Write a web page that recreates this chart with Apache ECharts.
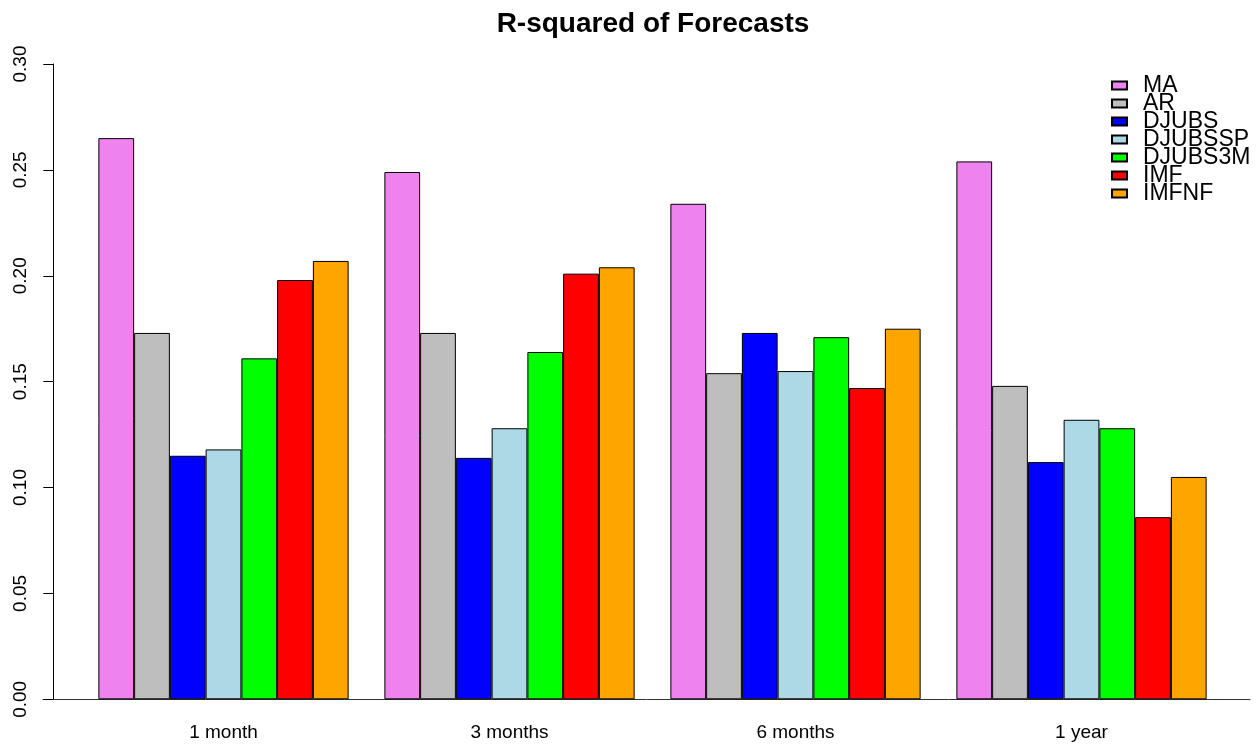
<!DOCTYPE html>
<html>
<head>
<meta charset="utf-8">
<script src="https://cdn.jsdelivr.net/npm/echarts@6/dist/echarts.min.js"></script>
<style>
  html, body { margin: 0; padding: 0; background: #fff; }
  #chart { width: 1258px; height: 747px; }
</style>
</head>
<body>
<div id="chart"></div>
<script>
// ---------- R-squared of Forecasts ----------
var horizons = ['1 month', '3 months', '6 months', '1 year'];
var seriesNames = ['MA', 'AR', 'DJUBS', 'DJUBSSP', 'DJUBS3M', 'IMF', 'IMFNF'];
var seriesColors = ['#EE82EE', '#BEBEBE', '#0000FF', '#ADD8E6', '#00FF00', '#FF0000', '#FFA500'];

var maVals      = [0.265, 0.249, 0.234, 0.254];
var arVals      = [0.173, 0.173, 0.154, 0.148];
var djubsVals   = [0.115, 0.114, 0.173, 0.112];
var djubsspVals = [0.118, 0.128, 0.155, 0.132];
var djubs3mVals = [0.161, 0.164, 0.171, 0.128];
var imfVals     = [0.198, 0.201, 0.147, 0.086];
var imfnfVals   = [0.207, 0.204, 0.175, 0.105];

var yTicks = [0, 0.05, 0.10, 0.15, 0.20, 0.25, 0.30];

var allVals = [maVals, arVals, djubsVals, djubsspVals, djubs3mVals, imfVals, imfnfVals];
var fontName = 'Liberation Sans, Arial, sans-serif';

var chartDom = document.getElementById('chart');
var myChart = echarts.init(chartDom);

var barSeries = seriesNames.map(function (name, i) {
    return {
        name: name,
        type: 'bar',
        xAxisIndex: 0,
        yAxisIndex: 0,
        data: allVals[i],
        barGap: 0,
        barCategoryGap: '12.5%',
        itemStyle: {
            color: seriesColors[i],
            borderColor: '#000',
            borderWidth: 1
        },
        emphasis: { disabled: true }
    };
});

var option = {
    backgroundColor: '#fff',
    animation: false,
    title: {
        text: 'R-squared of Forecasts',
        left: 648,
        textAlign: 'center',
        top: 5,
        textStyle: {
            fontFamily: fontName,
            fontWeight: 'bold',
            fontSize: 28,
            color: '#000'
        }
    },
    legend: {
        orient: 'vertical',
        left: 1106,
        top: 69,
        itemWidth: 15,
        itemHeight: 8,
        itemGap: -5,
        icon: 'rect',
        data: seriesNames,
        textStyle: {
            fontFamily: fontName,
            fontSize: 23,
            color: '#000',
            padding: [0, 0, 0, 11]
        }
    },
    grid: [{
        left: 80.5,
        right: 33.5,
        top: 64,
        bottom: 47.7
    }, {
        left: 43,
        right: 8,
        top: 64,
        bottom: 47.7
    }],
    xAxis: [{
        type: 'category',
        gridIndex: 0,
        data: horizons,
        axisLine: { show: false },
        axisTick: { show: false },
        axisLabel: {
            margin: 24,
            fontFamily: fontName,
            fontSize: 19,
            color: '#000'
        },
        splitLine: { show: false }
    }, {
        type: 'value',
        gridIndex: 1,
        min: 0,
        max: 1,
        axisLine: { show: true, lineStyle: { color: '#333', width: 1 } },
        axisTick: { show: false },
        axisLabel: { show: false },
        splitLine: { show: false }
    }],
    yAxis: [{
        type: 'value',
        gridIndex: 0,
        min: 0,
        max: 0.3,
        interval: 0.05,
        offset: 27.2,
        axisLine: { show: true, lineStyle: { color: '#000', width: 1 } },
        axisTick: { show: true, length: 10, lineStyle: { color: '#000' } },
        axisLabel: {
            rotate: 90,
            margin: 23,
            fontFamily: fontName,
            fontSize: 19,
            color: '#000',
            formatter: function (v) {
                return v.toFixed(2);
            }
        },
        splitLine: { show: false }
    }, {
        type: 'value',
        gridIndex: 1,
        show: false
    }],
    series: barSeries
};

myChart.setOption(option);
</script>
</body>
</html>
